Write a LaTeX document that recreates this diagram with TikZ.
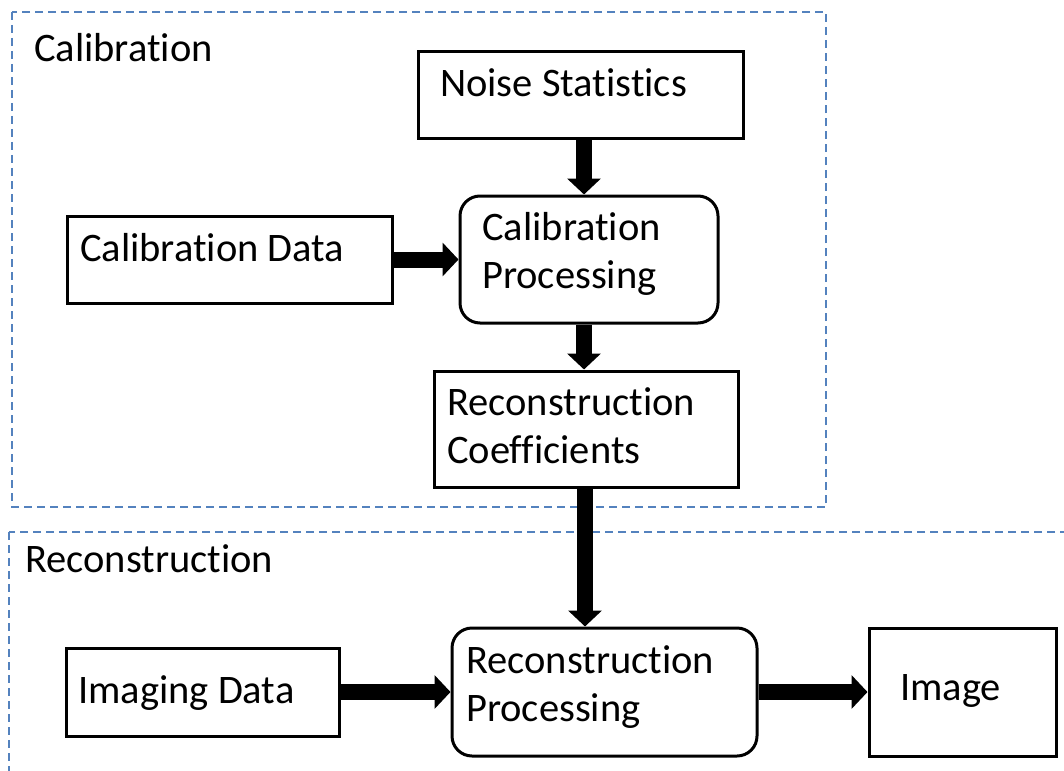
\documentclass[tikz,border=0pt]{standalone}
\usepackage{fontspec}
\setmainfont{Carlito}[Ligatures=NoCommon]
\usetikzlibrary{arrows.meta}
\definecolor{groupblue}{RGB}{84,130,190}
\begin{document}
\begin{tikzpicture}[x=1pt,y=-1pt,
  font=\fontsize{40.5}{48}\selectfont,
  box/.style={draw, line width=3pt, inner sep=0pt},
  rbox/.style={box, rounded corners=20pt},
  lbl/.style={anchor=base west, inner sep=0pt},
  grp/.style={draw=groupblue, line width=1.3pt, dash pattern=on 8pt off 5pt},
  fat/.style={line width=16pt, -{Triangle[length=16pt,width=33pt]}}]
\useasboundingbox (0,0) rectangle (1064,770);
\clip (0,0) rectangle (1064,770);
% group frames
\draw[grp] (12,12) rectangle (826,507);
\draw[grp] (9,532) rectangle (1080,790);
\node[lbl] (tcal) at (34,62) {Calibration};
\node[lbl] (trec) at (25,572) {Reconstruction};
% boxes
\node[box, minimum width=325pt, minimum height=87pt] (noise) at (580.5,95.5) {};
\node[box, minimum width=325pt, minimum height=87pt] (caldata) at (229.5,259.5) {};
\node[rbox, minimum width=258pt, minimum height=127pt] (calproc) at (589,259.5) {};
\node[box, minimum width=304pt, minimum height=116pt] (coef) at (586,429) {};
\node[rbox, minimum width=305pt, minimum height=128pt] (recproc) at (604.5,692) {};
\node[box, minimum width=273pt, minimum height=88pt] (imgdata) at (202.5,692) {};
\node[box, minimum width=187pt, minimum height=128pt] (image) at (962.5,692) {};
% texts
\node[lbl] (t1) at (440,97) {Noise Statistics};
\node[lbl] (t2) at (80,261) {Calibration Data};
\node[lbl] (t3) at (482,240) {Calibration};
\node[lbl] (t4) at (482,288) {Processing};
\node[lbl] (t5) at (447,415) {Reconstruction};
\node[lbl] (t6) at (447,463) {Coefficients};
\node[lbl] (t7) at (466,673) {Reconstruction};
\node[lbl] (t8) at (466,721) {Processing};
\node[lbl] (t9) at (78,703) {Imaging Data};
\node[lbl] (t10) at (900,700) {Image};
% connectors
\coordinate (ax) at (584,0);
\coordinate (bx) at (585,0);
\draw[fat] (noise.south -| ax) -- (calproc.north -| ax);
\draw[fat] (caldata.east) -- (calproc.west);
\draw[fat] (calproc.south -| ax) -- (coef.north -| ax);
\draw[fat] (coef.south -| bx) -- (recproc.north -| bx);
\draw[fat] (imgdata.east) -- (recproc.west);
\draw[fat] (recproc.east) -- (image.west);
\end{tikzpicture}
\end{document}
